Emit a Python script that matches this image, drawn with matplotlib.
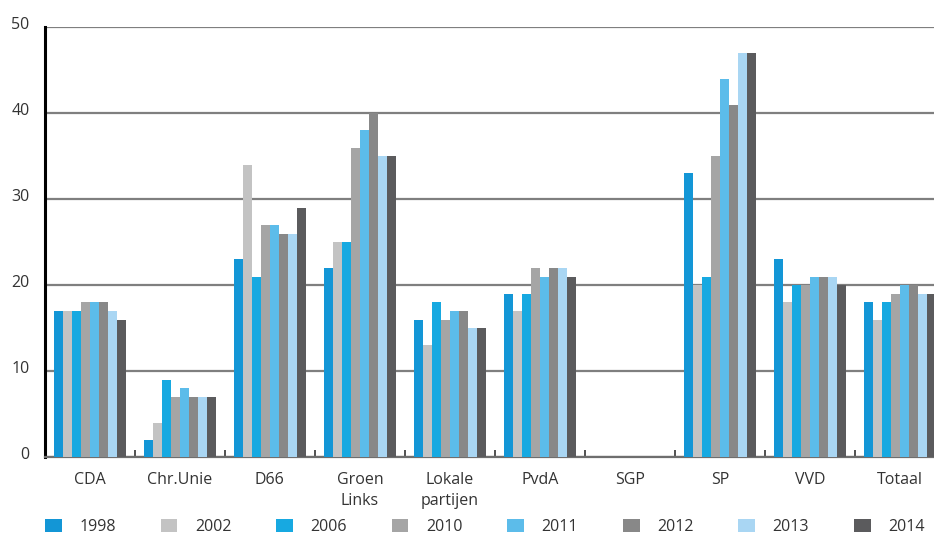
import matplotlib
matplotlib.use("Agg")
import matplotlib.pyplot as plt
import matplotlib.transforms as mtransforms
import numpy as np
from matplotlib.ticker import FixedLocator

plt.rcParams['font.family'] = ['Open Sans', 'DejaVu Sans']

categories = ["CDA", "Chr.Unie", "D66", "Groen\nLinks", "Lokale\npartijen",
              "PvdA", "SGP", "SP", "VVD", "Totaal"]
years = ["1998", "2002", "2006", "2010", "2011", "2012", "2013", "2014"]

v1998 = [17, 2, 23, 22, 16, 19, 0, 33, 23, 18]
v2002 = [17, 4, 34, 25, 13, 17, 0, 20, 18, 16]
v2006 = [17, 9, 21, 25, 18, 19, 0, 21, 20, 18]
v2010 = [18, 7, 27, 36, 16, 22, 0, 35, 20, 19]
v2011 = [18, 8, 27, 38, 17, 21, 0, 44, 21, 20]
v2012 = [18, 7, 26, 40, 17, 22, 0, 41, 21, 20]
v2013 = [17, 7, 26, 35, 15, 22, 0, 47, 21, 19]
v2014 = [16, 7, 29, 35, 15, 21, 0, 47, 20, 19]
series = [v1998, v2002, v2006, v2010, v2011, v2012, v2013, v2014]

colors = ["#1396d6", "#c3c3c3", "#17a9e1", "#a5a5a5",
          "#5cbcea", "#888888", "#a9d6f3", "#5b5b5d"]

fig = plt.figure(figsize=(9.34, 5.34), dpi=100)
ax = fig.add_axes([0.048, 0.144, 0.952, 0.805])

x = np.arange(len(categories))
w = 0.1
for i, (yr, vals) in enumerate(zip(years, series)):
    ax.bar(x - 0.35 + i * w, vals, width=w, color=colors[i], label=yr,
           zorder=3, linewidth=0)

FS = 11.5
ax.set_ylim(0, 50)
ax.set_xlim(-0.5, 9.38)
ax.set_yticks([0, 10, 20, 30, 40, 50])
ax.yaxis.grid(True, color="#7f7f7f", linewidth=1.6, zorder=1)
ax.set_axisbelow(True)
ax.tick_params(axis='y', length=0, pad=11, labelsize=FS, labelcolor="#333333")
offset = mtransforms.ScaledTranslation(0, 4 / 100, fig.dpi_scale_trans)
for lbl in ax.get_yticklabels():
    lbl.set_transform(lbl.get_transform() + offset)

ax.set_xticks(x)
ax.set_xticklabels(categories, fontsize=FS, color="#333333", linespacing=1.4)
ax.tick_params(axis='x', which='major', length=0, pad=11)
ax.xaxis.set_minor_locator(FixedLocator(np.arange(0.5, 9.5, 1.0)))
ax.tick_params(axis='x', which='minor', direction='in', length=5,
               width=1.2, color="#333333")

for s in ["top", "right"]:
    ax.spines[s].set_visible(False)
ax.spines["left"].set_color("black")
ax.spines["left"].set_linewidth(2.2)
ax.spines["bottom"].set_color("#6e6e6e")
ax.spines["bottom"].set_linewidth(1.6)

leg = fig.legend(loc="center left", bbox_to_anchor=(45 / 934, 0.013), ncol=8,
                 frameon=False, fontsize=FS, handlelength=1.05, handleheight=0.85,
                 handletextpad=1.1, columnspacing=2.8, borderpad=0,
                 borderaxespad=0)
for t in leg.get_texts():
    t.set_color("#333333")

fig.savefig("out.png", dpi=100)
